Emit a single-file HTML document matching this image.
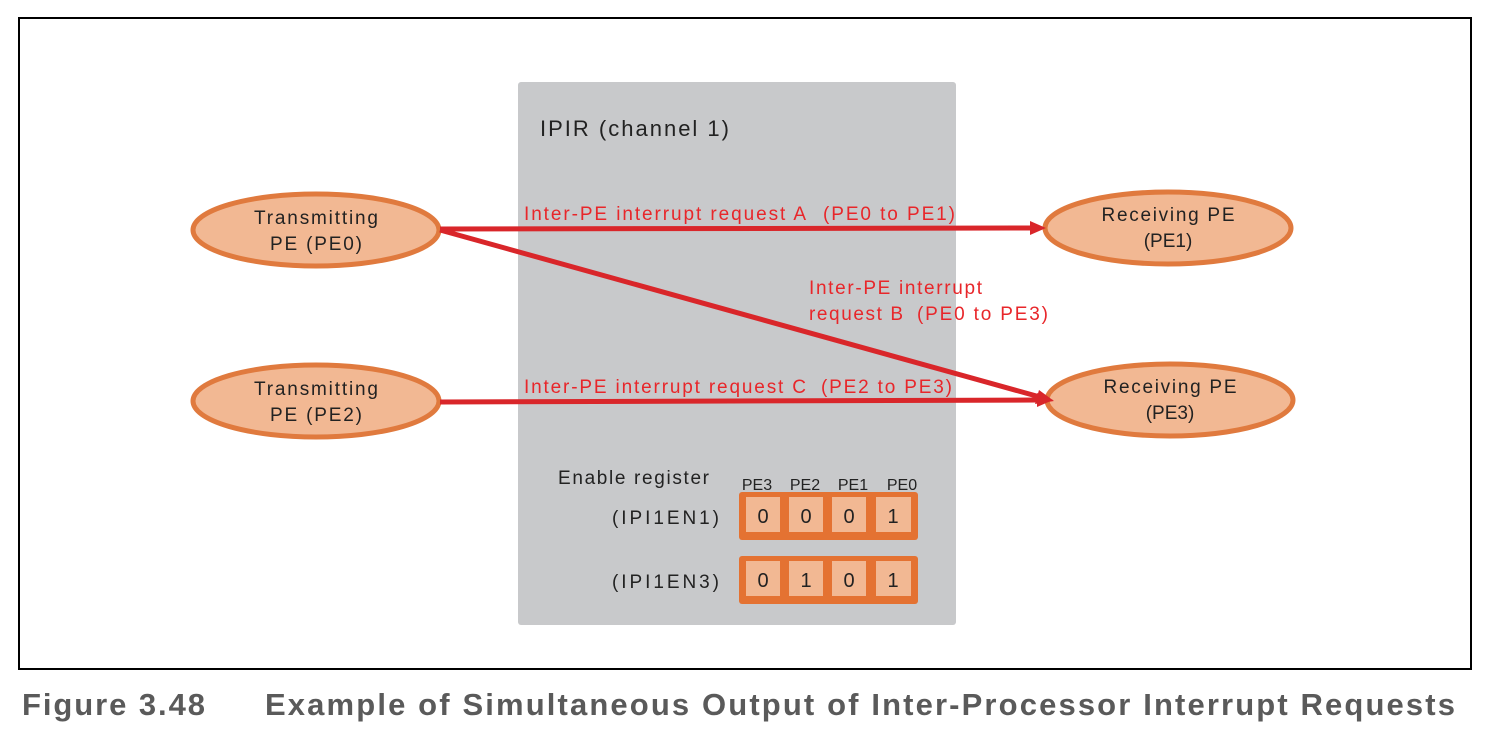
<!DOCTYPE html>
<html><head><meta charset="utf-8"><style>
html,body{margin:0;padding:0;background:#fff;}
svg{display:block;font-family:"Liberation Sans",Arial,sans-serif;}
</style></head><body>
<svg width="1497" height="738" viewBox="0 0 1497 738" xmlns="http://www.w3.org/2000/svg">
<rect x="19" y="18" width="1452" height="651" fill="#fff" stroke="#000" stroke-width="2"/>
<rect x="518" y="82" width="438" height="543" rx="3" fill="#c8c9cb"/>
<text x="540" y="136" font-size="22" fill="#222" textLength="189" lengthAdjust="spacing">IPIR (channel  1)</text>

<g fill="#f2b893" stroke="#e07a3e" stroke-width="5">
<ellipse cx="316" cy="230" rx="123" ry="36"/>
<ellipse cx="316" cy="401" rx="123" ry="36"/>
<ellipse cx="1168" cy="228" rx="123" ry="36"/>
<ellipse cx="1170" cy="400" rx="123" ry="36"/>
</g>
<g font-size="19" fill="#222" text-anchor="middle">
<text x="316" y="224" textLength="124" lengthAdjust="spacing">Transmitting</text><text x="316" y="250" textLength="92" lengthAdjust="spacing">PE (PE0)</text>
<text x="316" y="395" textLength="124" lengthAdjust="spacing">Transmitting</text><text x="316" y="421" textLength="92" lengthAdjust="spacing">PE (PE2)</text>
<text x="1168" y="221" textLength="133" lengthAdjust="spacing">Receiving PE</text><text x="1168" y="247">(PE1)</text>
<text x="1170" y="393" textLength="133" lengthAdjust="spacing">Receiving PE</text><text x="1170" y="419">(PE3)</text>
</g>

<g stroke="#d9262a" stroke-width="5" fill="none">
<line x1="440" y1="229" x2="1032" y2="228"/>
<line x1="440" y1="230" x2="1040" y2="397"/>
<line x1="440" y1="402" x2="1038" y2="400"/>
</g>
<g fill="#d9262a">
<polygon points="1046,228 1030,221 1030,235"/>
<polygon points="1054,401 1039,390 1035,404"/>
<polygon points="1053,400 1037,393 1037,407"/>
</g>
<g font-size="19" fill="#e8262a">
<text x="524" y="220" textLength="282" lengthAdjust="spacing">Inter-PE interrupt request A</text>
<text x="823" y="220" textLength="132" lengthAdjust="spacing">(PE0 to PE1)</text>
<text x="809" y="294" textLength="173" lengthAdjust="spacing">Inter-PE interrupt</text>
<text x="809" y="320" textLength="94" lengthAdjust="spacing">request B</text>
<text x="917" y="320" textLength="131" lengthAdjust="spacing">(PE0 to PE3)</text>
<text x="524" y="393" textLength="282" lengthAdjust="spacing">Inter-PE interrupt request C</text>
<text x="821" y="393" textLength="131" lengthAdjust="spacing">(PE2 to PE3)</text>
</g>

<g font-size="19" fill="#222">
<text x="558" y="484" textLength="151" lengthAdjust="spacing">Enable register</text>
<text x="612" y="524" textLength="107" lengthAdjust="spacing">(IPI1EN1)</text>
<text x="612" y="588" textLength="107" lengthAdjust="spacing">(IPI1EN3)</text>
</g>
<g font-size="16" fill="#222" text-anchor="middle">
<text x="757" y="490">PE3</text><text x="805" y="490">PE2</text><text x="853" y="490">PE1</text><text x="902" y="490">PE0</text>
</g>
<g fill="#e47232">
<rect x="739" y="492" width="179" height="48" rx="3"/>
<rect x="739" y="556" width="179" height="48" rx="3"/>
</g>
<g fill="#f2b893">
<rect x="746" y="497" width="34" height="35"/><rect x="789" y="497" width="34" height="35"/><rect x="832" y="497" width="34" height="35"/><rect x="876" y="497" width="35" height="35"/>
<rect x="746" y="561" width="34" height="35"/><rect x="789" y="561" width="34" height="35"/><rect x="832" y="561" width="34" height="35"/><rect x="876" y="561" width="35" height="35"/>
</g>
<g font-size="20" fill="#222" text-anchor="middle">
<text x="763" y="523">0</text><text x="806" y="523">0</text><text x="849" y="523">0</text><text x="893" y="523">1</text>
<text x="763" y="587">0</text><text x="806" y="587">1</text><text x="849" y="587">0</text><text x="893" y="587">1</text>
</g>

<g font-size="31" font-weight="bold" fill="#5a5a5a">
<text x="22" y="715" textLength="183" lengthAdjust="spacing">Figure 3.48</text>
<text x="265" y="715" textLength="1190" lengthAdjust="spacing">Example of Simultaneous Output of Inter-Processor Interrupt Requests</text>
</g>
</svg>
</body></html>
